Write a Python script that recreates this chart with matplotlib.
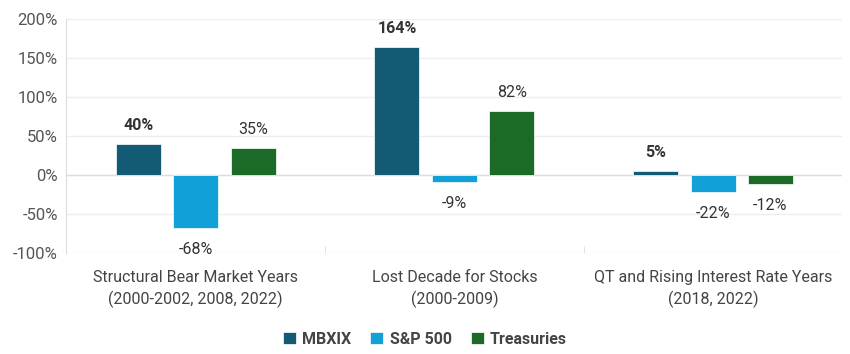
import numpy as np
import matplotlib.pyplot as plt

plt.rcParams['font.family'] = ['Roboto', 'DejaVu Sans']

categories = ["Structural Bear Market Years\n(2000-2002, 2008, 2022)",
              "Lost Decade for Stocks\n(2000-2009)",
              "QT and Rising Interest Rate Years\n(2018, 2022)"]
series = ["MBXIX", "S&P 500", "Treasuries"]
mbxix = [40, 164, 5]
sp500 = [-68, -9, -22]
treasuries = [35, 82, -12]
colors = ["#135b74", "#12a0d8", "#1b6a27"]

fig = plt.figure(figsize=(8.5, 3.54), dpi=100)
ax = fig.add_axes([0.078, 0.285, 0.913, 0.661])

x = np.arange(len(categories))
w = 0.174
step = 0.222
for i, (name, vals) in enumerate(zip(series, [mbxix, sp500, treasuries])):
    pos = x + (i - 1) * step
    ax.bar(pos, vals, width=w, color=colors[i], label=name, zorder=3,
           edgecolor="white", linewidth=0.5)
    for p, v in zip(pos, vals):
        off = 8 if v >= 0 else -10
        ax.annotate(f"{v}%", (p, v), xytext=(0, off), textcoords="offset points",
                    ha="center", va="bottom" if v >= 0 else "top",
                    fontsize=11.5, color="#333333",
                    fontweight="bold" if i == 0 else "normal")

ax.set_xlim(-0.5, 2.5)
ax.set_ylim(-100, 200)
ax.set_yticks(range(-100, 201, 50))
ax.set_yticklabels([f"{t}%" for t in range(-100, 201, 50)], fontsize=12, color="#555555")
ax.set_xticks(x)
ax.set_xticklabels(categories, fontsize=11.5, color="#444444", linespacing=1.45)
ax.set_xticks([0.5, 1.5], minor=True)
ax.tick_params(axis="x", which="major", length=0, pad=12)
ax.tick_params(axis="x", which="minor", length=5, color="#dddddd", direction="in")
ax.tick_params(axis="y", length=0, pad=6)
ax.grid(axis="y", color="#eeeeee", linewidth=1, zorder=0)
ax.axhline(0, color="#dddddd", linewidth=1, zorder=2)
for s in ["top", "right", "bottom"]:
    ax.spines[s].set_visible(False)
ax.spines["left"].set_color("#dddddd")

leg = fig.legend(loc="lower center", bbox_to_anchor=(0.5, -0.02), ncol=3, frameon=False,
                 handlelength=0.8, handleheight=0.8, handletextpad=0.4, columnspacing=1.2,
                 prop={"size": 11.5, "weight": "bold"})
for t in leg.get_texts():
    t.set_color("#444444")

fig.savefig("out.png", dpi=100)
